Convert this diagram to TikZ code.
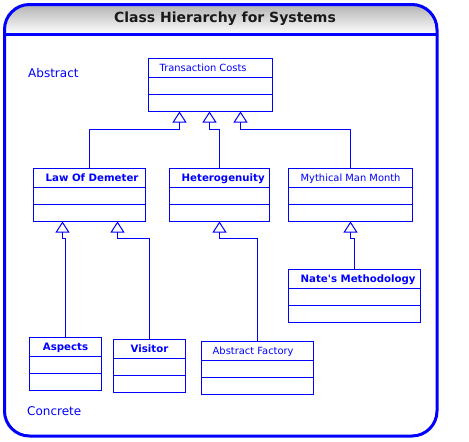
\documentclass[tikz,border=0pt]{standalone}
\usepackage{fontspec}
\setmainfont{DejaVu Sans}
\usetikzlibrary{arrows.meta}

\definecolor{umlblue}{RGB}{0,0,255}

\begin{document}
\begin{tikzpicture}[
    x=1pt, y=-1pt,
    frame/.style={draw=umlblue, line width=3pt},
    classbox/.style={rectangle, draw=umlblue, line width=1pt, minimum height=53pt, inner sep=0pt, outer sep=0pt, anchor=north west},
    classname/.style={text=umlblue, inner sep=0pt, anchor=base west, font=\fontsize{9.9}{11}\selectfont},
    classbold/.style={classname, font=\fontsize{10.2}{12}\selectfont\bfseries},
    classline/.style={draw=umlblue, line width=1pt},
    level/.style={text=umlblue, inner sep=0pt, anchor=west, font=\fontsize{12}{14}\selectfont},
    inherit/.style={draw=umlblue, line width=1pt, -{Triangle[open, length=11pt, width=14pt, line width=1pt]}}
]
\useasboundingbox (0,0) rectangle (469,442);

% frame with shaded title band
\begin{scope}
\clip[rounded corners=25pt] (4.5,4.5) rectangle (437,436);
\shade[top color=black!30, bottom color=white] (4.5,4.5) rectangle (437,34);
\end{scope}
\draw[frame, rounded corners=25pt] (4.5,4.5) rectangle (437,436);
\draw[frame] (4.5,34) -- (437,34);
\node[font=\fontsize{14}{16}\selectfont\bfseries, text=black!90, inner sep=0pt] (title) at (225,19) {Class Hierarchy for Systems};

\node[level] (abstract) at (28,73.5) {Abstract};
\node[level] (concrete) at (27,411) {Concrete};

% classes
\node[classbox, minimum width=124pt] (tc) at (148.5,58.5) {};
\node[classbox, minimum width=112pt] (ld) at (33.5,168.5) {};
\node[classbox, minimum width=100pt] (het) at (169.5,168.5) {};
\node[classbox, minimum width=124pt] (mmm) at (288.5,168.5) {};
\node[classbox, minimum width=132pt] (nate) at (288.5,269.5) {};
\node[classbox, minimum width=72pt] (asp) at (29.5,337.5) {};
\node[classbox, minimum width=72pt] (vis) at (113.5,339.5) {};
\node[classbox, minimum width=112pt] (af) at (201.5,341.5) {};

\foreach \c in {tc,ld,het,mmm,nate,asp,vis,af} {
    \draw[classline] ([yshift=-19pt]\c.north west) -- ([yshift=-19pt]\c.north east);
    \draw[classline] ([yshift=-36pt]\c.north west) -- ([yshift=-36pt]\c.north east);
}

\node[classname] (tc-name) at ([xshift=11pt, yshift=-12.5pt]tc.north west) {Transaction Costs};
\node[classbold] (ld-name) at ([xshift=12pt, yshift=-12.5pt]ld.north west) {Law Of Demeter};
\node[classbold] (het-name) at ([xshift=12pt, yshift=-12.5pt]het.north west) {Heterogenuity};
\node[classname] (mmm-name) at ([xshift=12pt, yshift=-12.5pt]mmm.north west) {Mythical Man Month};
\node[classbold] (nate-name) at ([xshift=12pt, yshift=-12.5pt]nate.north west) {Nate\textquotesingle s Methodology};
\node[classbold, anchor=base] (asp-name) at ([yshift=-12.5pt]asp.north) {Aspects};
\node[classbold, anchor=base] (vis-name) at ([yshift=-12.5pt]vis.north) {Visitor};
\node[classname] (af-name) at ([xshift=11pt, yshift=-12.5pt]af.north west) {Abstract Factory};

% inheritance
\coordinate (tc-l) at ([xshift=-31pt]tc.south);
\coordinate (tc-m) at ([xshift=-1pt]tc.south);
\coordinate (tc-r) at ([xshift=30pt]tc.south);
\coordinate (ld-l) at ([xshift=-27pt]ld.south);
\coordinate (ld-r) at ([xshift=28pt]ld.south);

\draw[inherit] (ld.north) |- ([yshift=-18pt]tc-l) -- (tc-l);
\draw[inherit] (het.north) |- ([yshift=-18pt]tc-m) -- (tc-m);
\draw[inherit] (mmm.north) |- ([yshift=-18pt]tc-r) -- (tc-r);
\draw[inherit] (asp.north) |- ([yshift=-17pt]ld-l) -- (ld-l);
\draw[inherit] (vis.north) |- ([yshift=-17pt]ld-r) -- (ld-r);
\draw[inherit] (af.north) |- ([yshift=-17pt]het.south) -- (het.south);
\draw[inherit] (nate.north) |- ([yshift=-17pt]mmm.south) -- (mmm.south);
\end{tikzpicture}
\end{document}
